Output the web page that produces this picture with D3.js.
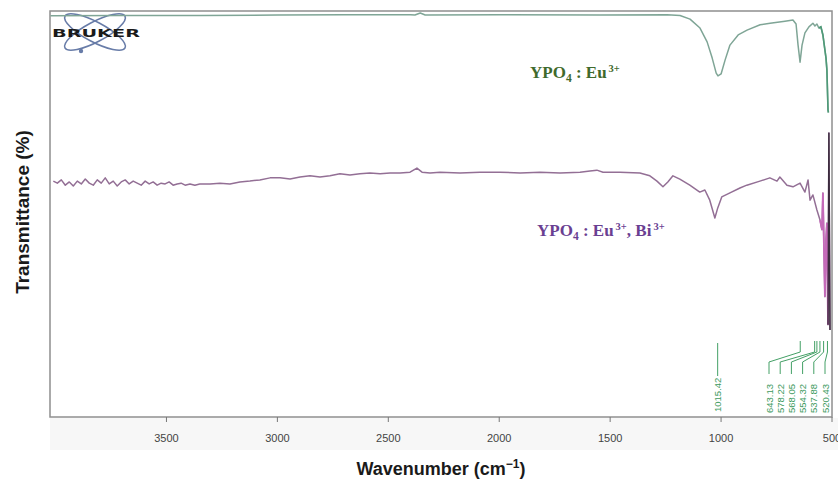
<!DOCTYPE html>
<html>
<head>
<meta charset="utf-8">
<script src="https://cdn.jsdelivr.net/npm/d3@7"></script>
<style>
  html, body { margin: 0; padding: 0; background: #fff; }
  svg { display: block; }
</style>
</head>
<body>
<svg id="chart" width="838" height="480"></svg>
<script>
// FT-IR spectra, wavenumber (cm-1) vs transmittance (%)
const xTicks = [3500, 3000, 2500, 2000, 1500, 1000, 500];

// YPO4 : Eu3+
const euSpectrum = [
  [4023, 98.8], [3700, 98.9], [3347, 98.9], [3000, 99.0], [2700, 99.1],
  [2400, 99.1], [2380, 99.0], [2356, 99.5], [2334, 99.0], [2000, 99.1],
  [1545, 99.0], [1243, 99.1], [1185, 98.9], [1140, 98.0], [1095, 95.8],
  [1063, 92.4], [1040, 88.4], [1022, 84.7], [1014, 84.0], [1000, 84.5],
  [982, 87.9], [960, 91.6], [923, 94.1], [883, 95.3], [824, 96.6],
  [779, 97.0], [712, 97.5], [676, 97.8], [662, 96.8], [653, 91.6],
  [644, 87.4], [635, 91.6], [622, 94.6], [604, 96.1], [586, 97.0],
  [577, 96.3], [568, 96.8], [559, 95.8], [550, 96.1], [541, 94.1],
  [532, 90.4], [527, 88.4], [523, 85.5], [518, 75.6], [516, 75.0]
];

// YPO4 : Eu3+, Bi3+
const euBiSpectrum = [
  [4010, 58.1], [3992, 57.6], [3974, 58.4], [3956, 57.1], [3938, 57.9],
  [3920, 56.9], [3902, 58.1], [3884, 57.4], [3866, 58.6], [3848, 57.6],
  [3830, 57.1], [3812, 58.4], [3794, 57.6], [3776, 58.9], [3758, 57.4],
  [3740, 58.1], [3722, 56.9], [3704, 57.9], [3686, 58.4], [3668, 57.4],
  [3650, 58.1], [3632, 57.6], [3614, 57.1], [3596, 58.1], [3578, 57.4],
  [3560, 57.9], [3542, 57.1], [3524, 57.6], [3506, 57.4], [3488, 57.9],
  [3470, 57.1], [3452, 57.4], [3434, 57.6], [3416, 57.1], [3394, 57.4],
  [3372, 57.1], [3350, 57.4], [3304, 57.4], [3259, 57.6], [3214, 57.4],
  [3169, 57.9], [3124, 58.1], [3079, 58.4], [3033, 58.9], [2988, 58.9],
  [2943, 58.6], [2898, 59.1], [2853, 59.4], [2808, 59.1], [2763, 59.4],
  [2718, 59.9], [2673, 59.6], [2628, 59.9], [2583, 60.1], [2537, 59.9],
  [2492, 60.1], [2447, 60.1], [2402, 60.3], [2371, 61.3], [2348, 60.3],
  [2312, 60.1], [2267, 60.3], [2177, 60.1], [2087, 60.3], [1996, 60.3],
  [1906, 60.1], [1816, 60.3], [1726, 60.1], [1636, 60.3], [1591, 60.6],
  [1560, 60.8], [1532, 60.3], [1456, 60.3], [1366, 60.1], [1321, 59.4],
  [1289, 58.1], [1262, 56.7], [1240, 57.9], [1217, 59.4], [1186, 58.6],
  [1141, 57.1], [1096, 55.4], [1073, 55.9], [1051, 53.4], [1028, 49.0],
  [1015, 51.5], [997, 54.2], [960, 55.2], [915, 56.4], [884, 57.1],
  [825, 58.1], [780, 58.9], [748, 58.1], [735, 59.1], [703, 57.1],
  [676, 56.7], [644, 57.6], [622, 55.4], [608, 58.4], [599, 53.4],
  [586, 54.7], [568, 51.0], [554, 48.5], [545, 46.1], [541, 55.2],
  [532, 29.6], [527, 43.6], [523, 47.8], [518, 22.7], [514, 70.0],
  [509, 21.4]
];

// Peak picks for YPO4 : Eu3+
const mainPeak = 1015.42;
const clusterPeaks = [643.13, 578.22, 568.05, 554.32, 537.88, 520.43];

const svg = d3.select("#chart");
const frame = { left: 50, right: 832, top: 11, bottom: 417 };

const x = d3.scaleLinear().domain([4025, 500]).range([frame.left, frame.right]);
const y = d3.scaleLinear().domain([0, 100]).range([frame.bottom, frame.top]);

// light band behind tick labels
svg.append("rect")
  .attr("x", frame.left).attr("y", frame.bottom + 1)
  .attr("width", 838 - frame.left).attr("height", 32)
  .attr("fill", "#f7f7f7");

// plot frame
svg.append("rect")
  .attr("x", frame.left).attr("y", frame.top)
  .attr("width", frame.right - frame.left).attr("height", frame.bottom - frame.top)
  .attr("fill", "#fff").attr("stroke", "#8f8f8f").attr("stroke-width", 1.5);

// Bruker logo
const logo = svg.append("g").attr("transform", "translate(95,32)");
[-28, 28].forEach(a => {
  logo.append("ellipse")
    .attr("rx", 34).attr("ry", 10)
    .attr("transform", `rotate(${a})`)
    .attr("fill", "none").attr("stroke", "#687ca8").attr("stroke-width", 1.6);
});
logo.append("circle").attr("cx", -14).attr("cy", 19).attr("r", 2.2).attr("fill", "#687ca8");
logo.append("text")
  .attr("x", -43).attr("y", 5)
  .attr("textLength", 88).attr("lengthAdjust", "spacingAndGlyphs")
  .attr("font-family", "DejaVu Sans, sans-serif").attr("font-weight", "bold")
  .attr("font-size", 11).attr("fill", "#1a1a1a")
  .text("BRUKER");

const line = d3.line().x(d => x(d[0])).y(d => y(d[1]));

const plot = svg.append("g");
plot.append("path").datum(euSpectrum)
  .attr("d", line).attr("fill", "none")
  .attr("stroke", "#7fa596").attr("stroke-width", 1.5).attr("stroke-linejoin", "round");
plot.append("path").datum(euSpectrum.filter(d => d[0] <= 560))
  .attr("d", line).attr("fill", "none")
  .attr("stroke", "#4f9a78").attr("stroke-width", 1.6);

plot.append("path").datum(euBiSpectrum)
  .attr("d", line).attr("fill", "none")
  .attr("stroke", "#936f95").attr("stroke-width", 1.5).attr("stroke-linejoin", "round");
plot.append("path").datum(euBiSpectrum.filter(d => d[0] <= 560 && d[0] >= 518))
  .attr("d", line).attr("fill", "none")
  .attr("stroke", "#c56ab9").attr("stroke-width", 1.8);
plot.append("path").datum(euBiSpectrum.filter(d => d[0] <= 518))
  .attr("d", line).attr("fill", "none")
  .attr("stroke", "#3b2b3d").attr("stroke-width", 1.4);

// series labels
function seriesLabel(tx, ty, color, parts) {
  const t = svg.append("text")
    .attr("x", tx).attr("y", ty)
    .attr("font-family", "Liberation Serif, Times New Roman, serif")
    .attr("font-weight", "bold").attr("font-size", 17).attr("fill", color);
  parts.forEach(p => {
    const s = t.append("tspan").text(p.t);
    if (p.sub) s.attr("font-size", 11.5).attr("dy", 4);
    if (p.sup) s.attr("font-size", 10.5).attr("dy", -6).attr("dx", 2);
    if (p.back) s.attr("dy", p.back);
  });
}
seriesLabel(530, 78, "#3f6a2c", [
  { t: "YPO" }, { t: "4", sub: true }, { t: " : Eu", back: -4 }, { t: "3+", sup: true }
]);
seriesLabel(537, 236, "#6a3f92", [
  { t: "YPO" }, { t: "4", sub: true }, { t: " : Eu", back: -4 }, { t: "3+", sup: true },
  { t: ", Bi", back: 6 }, { t: "3+", sup: true }
]);

// peak annotations
const ann = svg.append("g").attr("stroke", "#44a066").attr("fill", "none").attr("stroke-width", 1);
const annText = svg.append("g")
  .attr("font-family", "Liberation Sans, Arial, sans-serif")
  .attr("font-size", 9.5).attr("fill", "#3d9a5e");

ann.append("line")
  .attr("x1", x(mainPeak)).attr("x2", x(mainPeak))
  .attr("y1", 343).attr("y2", 376);
annText.append("text")
  .attr("transform", `translate(${x(mainPeak) + 3.5},412) rotate(-90)`)
  .text(mainPeak.toFixed(2));

const labelX = d3.scalePoint().domain(clusterPeaks).range([769, 825]);
clusterPeaks.forEach(p => {
  const px = x(p), lx = labelX(p);
  ann.append("polyline")
    .attr("points", `${px},341 ${px},352 ${lx},362 ${lx},374`);
  annText.append("text")
    .attr("transform", `translate(${lx + 3.5},413) rotate(-90)`)
    .text(p.toFixed(2));
});

// x axis ticks and labels
const axis = svg.append("g");
xTicks.forEach(v => {
  axis.append("line")
    .attr("x1", x(v)).attr("x2", x(v))
    .attr("y1", frame.bottom).attr("y2", frame.bottom + 5)
    .attr("stroke", "#777").attr("stroke-width", 1);
  axis.append("text")
    .attr("x", x(v)).attr("y", 442)
    .attr("text-anchor", "middle")
    .attr("font-family", "Liberation Sans, Arial, sans-serif")
    .attr("font-size", 11).attr("fill", "#444")
    .text(v);
});

// axis titles
const xt = svg.append("text")
  .attr("x", 441).attr("y", 475).attr("text-anchor", "middle")
  .attr("font-family", "Liberation Sans, Arial, sans-serif")
  .attr("font-weight", "bold").attr("font-size", 18).attr("fill", "#1a1a1a");
xt.append("tspan").text("Wavenumber (cm");
xt.append("tspan").attr("font-size", 12).attr("dy", -7).text("\u22121");
xt.append("tspan").attr("dy", 7).text(")");

svg.append("text")
  .attr("transform", "translate(29,212) rotate(-90)")
  .attr("text-anchor", "middle")
  .attr("font-family", "Liberation Sans, Arial, sans-serif")
  .attr("font-weight", "bold").attr("font-size", 19).attr("fill", "#1a1a1a")
  .text("Transmittance (%)");
</script>
</body>
</html>
